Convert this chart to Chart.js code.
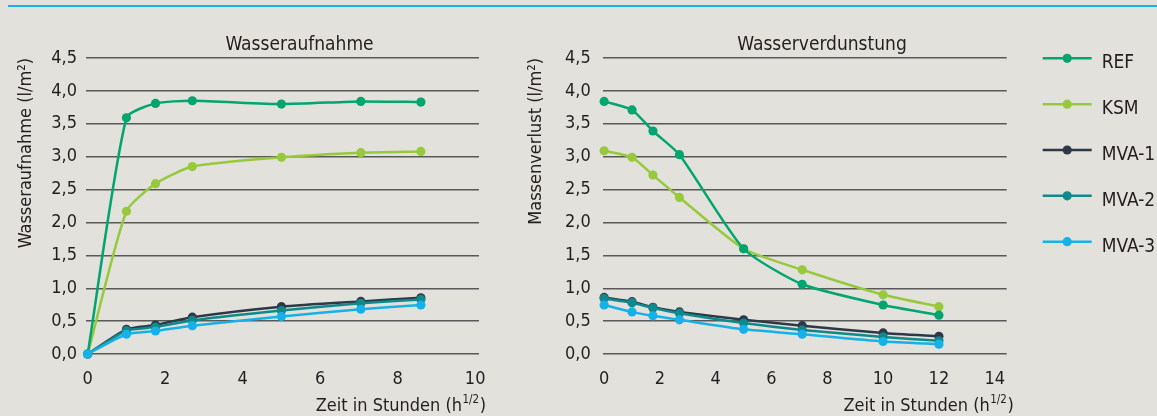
<!DOCTYPE html>
<html>
<head>
<meta charset="utf-8">
<script src="https://cdn.jsdelivr.net/npm/chart.js@4/dist/chart.umd.min.js"></script>
<style>
  html, body { margin: 0; padding: 0; background: #e2e1dc; }
  #wrap { position: relative; width: 1157px; height: 416px; overflow: hidden; background: #e2e1dc; }
  #rule { position: absolute; left: 8px; top: 5px; right: 0; height: 2px; background: #19b0e8; }
  #uptake { position: absolute; left: 0; top: 0; }
  #drying { position: absolute; left: 500px; top: 0; }
</style>
</head>
<body>
<div id="wrap">
  <div id="rule"></div>
  <canvas id="uptake" width="500" height="416"></canvas>
  <canvas id="drying" width="657" height="416"></canvas>
</div>
<script>
// Series names and colours
const seriesNames  = ['REF', 'KSM', 'MVA-1', 'MVA-2', 'MVA-3'];
const seriesColors = ['#00a56f', '#97c93d', '#2d3946', '#0e8a8c', '#17b1e9'];
const drawOrder    = [1, 2, 4, 3, 0];   // lower = drawn on top

// Wasseraufnahme (l/m²) over sqrt(time)
const uptakeTime = [0, 1, 1.75, 2.7, 5.0, 7.05, 8.6];
const uptakeREF  = [0, 3.59, 3.81, 3.85, 3.80, 3.84, 3.83];
const uptakeKSM  = [0, 2.17, 2.59, 2.85, 2.99, 3.06, 3.08];
const uptakeMVA1 = [0, 0.375, 0.44, 0.56, 0.72, 0.80, 0.855];
const uptakeMVA2 = [0, 0.355, 0.41, 0.51, 0.66, 0.77, 0.83];
const uptakeMVA3 = [0, 0.30, 0.35, 0.43, 0.57, 0.68, 0.745];

// Massenverlust (l/m²) over sqrt(time)
const dryTime = [0, 1, 1.75, 2.7, 5.0, 7.1, 10, 12];
const dryREF  = [3.84, 3.71, 3.39, 3.03, 1.60, 1.06, 0.745, 0.59];
const dryKSM  = [3.09, 2.99, 2.72, 2.38, 1.60, 1.28, 0.90, 0.72];
const dryMVA1 = [0.86, 0.795, 0.71, 0.64, 0.52, 0.43, 0.32, 0.27];
const dryMVA2 = [0.845, 0.78, 0.70, 0.62, 0.47, 0.365, 0.26, 0.20];
const dryMVA3 = [0.745, 0.64, 0.58, 0.52, 0.375, 0.30, 0.19, 0.15];

// Tick values
const yTickValues       = [0, 0.5, 1, 1.5, 2, 2.5, 3, 3.5, 4, 4.5];
const uptakeXTickValues = [0, 2, 4, 6, 8, 10];
const dryXTickValues    = [0, 2, 4, 6, 8, 10, 12, 14];

const FONT = "'Liberation Sans Narrow', 'DejaVu Sans Condensed', 'Arial Narrow', sans-serif";
const TEXT = '#231f20';
const FS = 19;      // titles and legend
const FS_TICK = 18; // tick labels and axis titles

function toSeries(xs, ys) { return xs.map((x, i) => ({ x: x, y: ys[i] })); }

function makeDatasets(xs, seriesValues) {
  return seriesValues.map((ys, i) => ({
    label: seriesNames[i],
    data: toSeries(xs, ys),
    borderColor: seriesColors[i],
    backgroundColor: seriesColors[i],
    pointBackgroundColor: seriesColors[i],
    pointBorderColor: seriesColors[i],
    borderWidth: 2.5,
    pointRadius: 4.6,
    pointHoverRadius: 4.6,
    pointBorderWidth: 0,
    tension: 0.2,
    clip: false,
    order: drawOrder[i]
  }));
}

// Panel title and x-axis title with superscript exponent
const panelText = {
  id: 'panelText',
  afterDraw(chart, args, opts) {
    const ctx = chart.ctx, a = chart.chartArea;
    ctx.save();
    ctx.fillStyle = TEXT;
    ctx.textBaseline = 'alphabetic';
    ctx.font = FS + 'px ' + FONT;
    ctx.textAlign = 'center';
    ctx.fillText(opts.title, (a.left + a.right) / 2 + opts.titleShift, 50);

    const main = 'Zeit in Stunden (h', sup = '1/2', tail = ')';
    ctx.textAlign = 'left';
    ctx.font = FS_TICK + 'px ' + FONT;
    const wMain = ctx.measureText(main).width;
    const wTail = ctx.measureText(tail).width;
    ctx.font = '11.5px ' + FONT;
    const wSup = ctx.measureText(sup).width;
    const right = a.right + opts.xTitleShift;
    let x = right - wMain - wSup - wTail - 1;
    const base = 411;
    ctx.font = FS_TICK + 'px ' + FONT;
    ctx.fillText(main, x, base);
    x += wMain + 0.5;
    ctx.font = '11.5px ' + FONT;
    ctx.fillText(sup, x, base - 8);
    x += wSup + 0.5;
    ctx.font = FS_TICK + 'px ' + FONT;
    ctx.fillText(tail, x, base);
    ctx.restore();
  }
};

// Legend: short line with a dot, label to the right
const sideLegend = {
  id: 'sideLegend',
  afterDraw(chart, args, opts) {
    if (!opts.show) return;
    const ctx = chart.ctx, a = chart.chartArea;
    ctx.save();
    chart.data.datasets.forEach((ds, i) => {
      const y = a.top + 0.3 + i * 45.85;
      const x0 = a.right + 36, x1 = a.right + 85;
      ctx.strokeStyle = ds.borderColor;
      ctx.lineWidth = 2.5;
      ctx.beginPath(); ctx.moveTo(x0, y); ctx.lineTo(x1, y); ctx.stroke();
      ctx.fillStyle = ds.borderColor;
      ctx.beginPath(); ctx.arc((x0 + x1) / 2, y, 4.6, 0, Math.PI * 2); ctx.fill();
      ctx.fillStyle = TEXT;
      ctx.font = FS + 'px ' + FONT;
      ctx.textAlign = 'left';
      ctx.textBaseline = 'alphabetic';
      ctx.fillText(ds.label, a.right + 95, y + 10);
    });
    ctx.restore();
  }
};

function makeChart(canvasId, cfg) {
  return new Chart(document.getElementById(canvasId), {
    type: 'line',
    data: { datasets: makeDatasets(cfg.xs, cfg.series) },
    plugins: [panelText, sideLegend],
    options: {
      responsive: false,
      animation: false,
      devicePixelRatio: 1,
      events: [],
      layout: { padding: { left: 0, top: 58, right: cfg.padRight, bottom: 12 } },
      plugins: {
        legend: { display: false },
        tooltip: { enabled: false },
        title: { display: false },
        panelText: { title: cfg.title, titleShift: 17, xTitleShift: 7 },
        sideLegend: { show: cfg.legend }
      },
      scales: {
        x: {
          type: 'linear',
          bounds: 'data',
          min: cfg.xMin,
          max: cfg.xMax,
          afterBuildTicks: s => { s.ticks = cfg.xTicks.map(v => ({ value: v })); },
          afterFit: s => { s.height = 50; },
          grid: { display: false },
          border: { display: false },
          ticks: { color: TEXT, font: { family: FONT, size: FS_TICK }, padding: 7, maxRotation: 0, autoSkip: false }
        },
        y: {
          type: 'linear',
          bounds: 'data',
          min: 0,
          max: 4.5,
          afterBuildTicks: s => { s.ticks = yTickValues.map(v => ({ value: v })); },
          afterFit: s => { s.width = cfg.yWidth; },
          grid: { color: '#595959', lineWidth: 1.4, drawTicks: false },
          border: { display: false },
          ticks: {
            color: TEXT, font: { family: FONT, size: FS_TICK }, padding: cfg.yTickPad,
            callback: v => v.toFixed(1).replace('.', ',')
          },
          title: {
            display: true,
            text: cfg.yTitle,
            align: 'end',
            color: TEXT,
            font: { family: FONT, size: FS_TICK },
            padding: { top: cfg.yTitlePad, bottom: 0 }
          }
        }
      }
    }
  });
}

makeChart('uptake', {
  xs: uptakeTime,
  series: [uptakeREF, uptakeKSM, uptakeMVA1, uptakeMVA2, uptakeMVA3],
  title: 'Wasseraufnahme',
  yTitle: 'Wasseraufnahme (l/m²)',
  xMin: -0.044, xMax: 10.1,
  xTicks: uptakeXTickValues,
  yWidth: 86, yTickPad: 9, yTitlePad: 16,
  padRight: 21,
  legend: false
});

makeChart('drying', {
  xs: dryTime,
  series: [dryREF, dryKSM, dryMVA1, dryMVA2, dryMVA3],
  title: 'Wasserverdunstung',
  yTitle: 'Massenverlust (l/m²)',
  xMin: -0.03, xMax: 14.43,
  xTicks: dryXTickValues,
  yWidth: 103.3, yTickPad: 12.6, yTitlePad: 25.7,
  padRight: 150.3,
  legend: true
});
</script>
</body>
</html>
